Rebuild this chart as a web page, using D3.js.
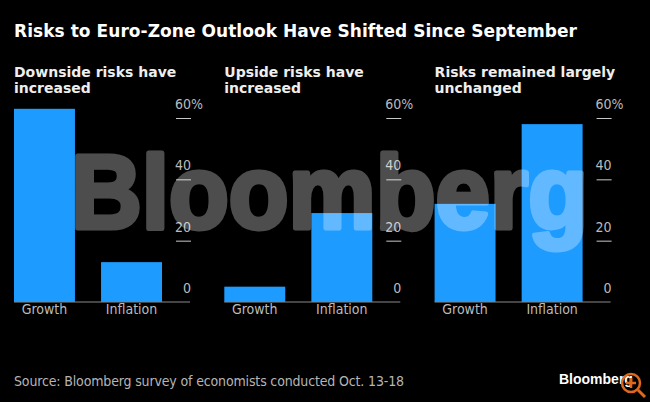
<!doctype html>
<html lang="en">
<head>
<meta charset="utf-8">
<title>Risks to Euro-Zone Outlook</title>
<style>
html, body { margin: 0; padding: 0; background: #000; }
svg { display: block; }
text { font-family: "DejaVu Sans", sans-serif; }
.title { font-size: 17px; font-weight: bold; fill: #fff; }
.sub { font-size: 14px; font-weight: bold; fill: #eee; }
.cat, .tick text { font-family: "DejaVu Sans Condensed", "DejaVu Sans", sans-serif; font-size: 14px; fill: #bbb; }
.source { font-family: "DejaVu Sans Condensed", "DejaVu Sans", sans-serif; font-size: 14px; fill: #b5b5b5; }
</style>
</head>
<body>
<div id="chart"></div>
<script src="https://d3js.org/d3.v7.min.js"></script>
<script>
var categories = ["Growth", "Inflation"];
var panelTitles = [
  ["Downside risks have", "increased"],
  ["Upside risks have", "increased"],
  ["Risks remained largely", "unchanged"]
];
var panelValues = [
  [63, 13],
  [5, 29],
  [32, 58]
];
var tickValues = [0, 20, 40, 60];

var svg = d3.select("#chart").append("svg").attr("width", 650).attr("height", 402);
svg.append("rect").attr("width", 650).attr("height", 402).attr("fill", "#000");

svg.append("text").attr("class", "title")
  .attr("x", 14).attr("y", 37)
  .attr("textLength", 563)
  .text("Risks to Euro-Zone Outlook Have Shifted Since September");

var y = d3.scaleLinear().domain([0, 60]).range([302, 118]);

panelValues.forEach(function(vals, i) {
  var left = 14 + i * 210.3;
  var g = svg.append("g").attr("transform", "translate(" + left + ",0)");

  g.selectAll("text.sub").data(panelTitles[i]).enter().append("text")
    .attr("class", "sub")
    .attr("x", 0)
    .attr("y", function(d, j) { return 77 + j * 16; })
    .text(function(d) { return d; });

  var x = d3.scaleBand().domain(categories).range([0, 148]).paddingInner(0.3);

  // baseline
  g.append("line").attr("x1", 0).attr("x2", 176).attr("y1", y(0)).attr("y2", y(0))
    .attr("stroke", "#8a8a8a").attr("stroke-width", 1.2);

  g.selectAll("rect").data(vals).enter().append("rect")
    .attr("x", function(d, j) { return x(categories[j]); })
    .attr("y", function(d) { return y(d); })
    .attr("width", x.bandwidth())
    .attr("height", function(d) { return y(0) - y(d); })
    .attr("fill", "#1e9bff");

  categories.forEach(function(c) {
    g.append("text").attr("class", "cat")
      .attr("x", x(c) + x.bandwidth() / 2).attr("y", 314)
      .attr("text-anchor", "middle").text(c);
  });

  var axis = d3.axisRight(y).tickValues(tickValues).tickSize(15)
    .tickFormat(function(d) { return d === 60 ? "60%" : d; });
  var ag = g.append("g").attr("transform", "translate(162,0)").call(axis);
  ag.select(".domain").remove();
  ag.selectAll(".tick line").attr("stroke", function(d) { return d === 0 ? "none" : "#c8c8c8"; });
  ag.selectAll(".tick text")
    .attr("x", function(d) { return d === 60 ? -1 : 15; })
    .attr("dy", "-9.5px")
    .attr("text-anchor", function(d) { return d === 60 ? "start" : "end"; });
});

svg.append("text").attr("class", "source")
  .attr("x", 14).attr("y", 386)
  .attr("textLength", 390)
  .text("Source: Bloomberg survey of economists conducted Oct. 13-18");

svg.append("text")
  .attr("x", 559).attr("y", 384)
  .attr("fill", "#fff").attr("font-weight", "bold").attr("font-size", 14)
  .style("font-family", "'Liberation Sans', sans-serif")
  .text("Bloomberg");

// watermark, stroked to get the heavy logo weight
svg.append("g").attr("opacity", 0.3)
  .append("text")
  .attr("x", 71).attr("y", 228)
  .attr("textLength", 517).attr("lengthAdjust", "spacingAndGlyphs")
  .attr("fill", "#fff").attr("stroke", "#fff").attr("stroke-width", 5)
  .attr("stroke-linejoin", "round").attr("font-weight", "bold")
  .attr("font-size", 104)
  .style("font-family", "'Liberation Sans', sans-serif")
  .text("Bloomberg");

// zoom badge
var badge = svg.append("g").attr("transform", "translate(631,383)").attr("fill", "none").attr("stroke", "#e0681c");
badge.append("circle").attr("r", 9).attr("stroke-width", 2.5);
badge.append("line").attr("x1", 7).attr("y1", 7).attr("x2", 14).attr("y2", 14).attr("stroke-width", 3);
badge.append("path").attr("d", "M-5 0H5M0 -5V5").attr("stroke-width", 2.5);
</script>
</body>
</html>
